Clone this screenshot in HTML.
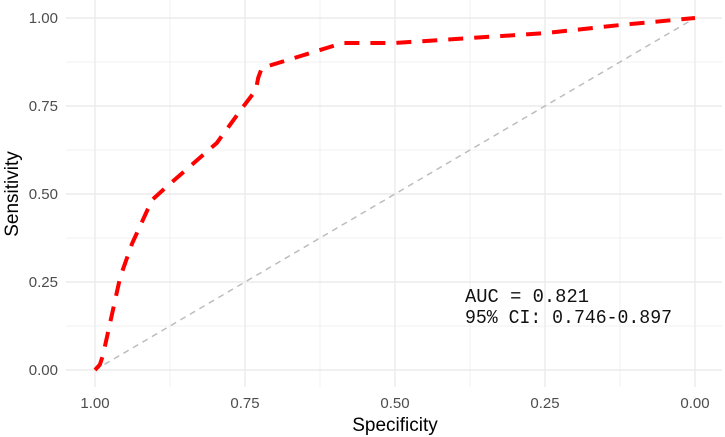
<!DOCTYPE html>
<html><head><meta charset="utf-8"><style>
body{margin:0;background:#fff;}
svg{display:block;font-family:"Liberation Sans",sans-serif;}
</style></head><body>
<svg id="chart" width="725" height="437" viewBox="0 0 725 437">
<g id="grid"></g><g id="axes"></g><g id="series"></g>
<text x="465" y="302" font-family="Liberation Mono, monospace" font-size="19" textLength="124" lengthAdjust="spacingAndGlyphs" fill="#111">AUC = 0.821</text>
<text x="465" y="323" font-family="Liberation Mono, monospace" font-size="19" textLength="207" lengthAdjust="spacingAndGlyphs" fill="#111">95% CI: 0.746-0.897</text>
<text x="395" y="431" text-anchor="middle" font-size="19" fill="#000">Specificity</text>
<text transform="translate(18,194) rotate(-90)" text-anchor="middle" font-size="19" fill="#000">Sensitivity</text>
</svg>
<script>
const specificity=[1,0.992,0.987,0.958,0.938,0.905,0.883,0.797,0.753,0.732,0.728,0.722,0.587,0.5,0.375,0.25,0.125,0];
const sensitivity=[0,0.015,0.04,0.264,0.36,0.483,0.517,0.645,0.748,0.795,0.83,0.858,0.929,0.929,0.943,0.957,0.98,1];
const xTicks=[1,0.75,0.5,0.25,0];
const xTickLabels=["1.00","0.75","0.50","0.25","0.00"];
const yTicks=[0,0.25,0.5,0.75,1];
const yTickLabels=["0.00","0.25","0.50","0.75","1.00"];
const NS="http://www.w3.org/2000/svg";
const X=v=>95+(1-v)*600, Y=v=>370-v*352;
const L=66,R=722,T=0,B=387;
function mk(t,a,p){const e=document.createElementNS(NS,t);for(const k in a)e.setAttribute(k,a[k]);p.appendChild(e);return e;}
const g=document.getElementById('grid'),ax=document.getElementById('axes'),s=document.getElementById('series');
for(let v=0;v<=1.0001;v+=0.125){const major=Math.abs(v*4-Math.round(v*4))<1e-6;
 let l=mk('line',{x1:X(v),x2:X(v),y1:T,y2:B,stroke:'#ebebeb','stroke-width':major?1.4:0.7},g);
 
 let m=mk('line',{x1:L,x2:R,y1:Y(v),y2:Y(v),stroke:'#ebebeb','stroke-width':major?1.4:0.7},g);
 }
xTicks.forEach((v,i)=>{const t=mk('text',{x:X(v),y:408,'text-anchor':'middle','font-size':15,fill:'#4d4d4d'},ax);t.textContent=xTickLabels[i];
 });
yTicks.forEach((v,i)=>{const t=mk('text',{x:58,y:Y(v)+5,'text-anchor':'end','font-size':15,fill:'#4d4d4d'},ax);t.textContent=yTickLabels[i];
 });
const d=mk('line',{x1:X(1),y1:Y(0),x2:X(0),y2:Y(1),stroke:'#bdbdbd','stroke-width':1.5,'stroke-dasharray':'6,5'},s);

const p=mk('polyline',{points:specificity.map((v,i)=>X(v)+','+Y(sensitivity[i])).join(' '),fill:'none',stroke:'#ff0000','stroke-width':4,'stroke-dasharray':'15,11'},s);

</script>
</body></html>
